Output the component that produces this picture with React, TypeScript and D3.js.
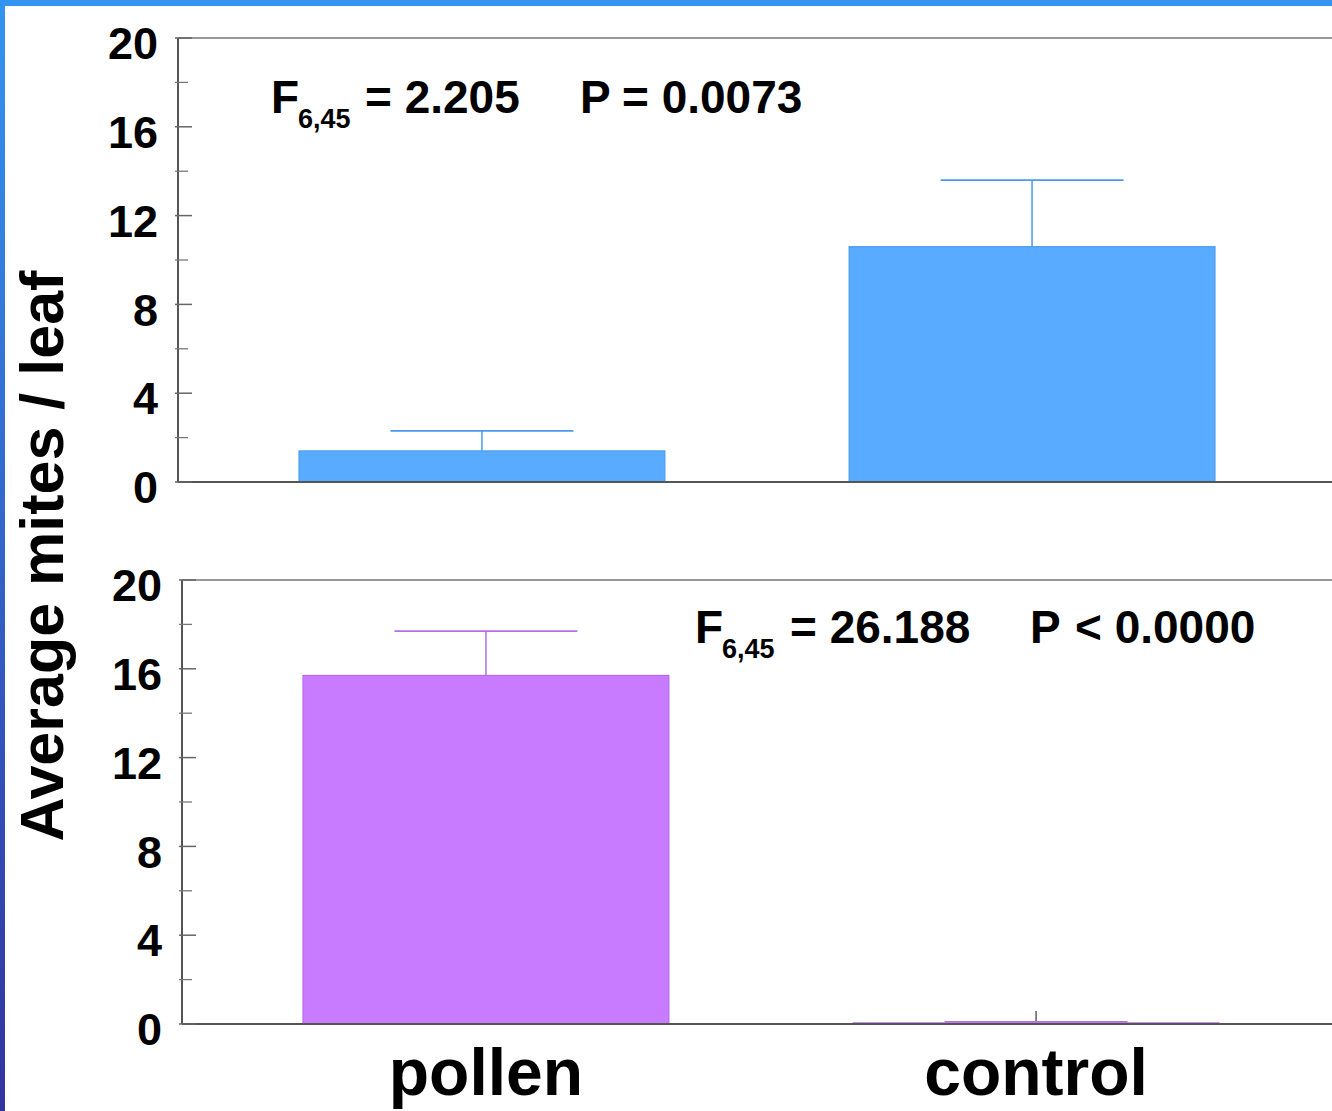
import React from "react";
import * as d3 from "d3";

const categories = ["pollen", "control"];
const topMeans = [1.4, 10.6];
const topErrors = [0.9, 3.0];
const bottomMeans = [15.7, 0.05];
const bottomErrors = [2.0, 0.05];
const majorTicks = [0, 4, 8, 12, 16, 20];
const minorTicks = [2, 6, 10, 14, 18];
const yTitle = "Average mites / leaf";
const topStat = { f: "= 2.205", p: "P", pv: "= 0.0073" };
const bottomStat = { f: "= 26.188", p: "P", pv: "< 0.0000" };

const W = 1332;
const H = 1111;
const FONT = "'Liberation Sans', Arial, sans-serif";

type PanelProps = {
  left: number;
  top: number;
  bottom: number;
  means: number[];
  errors: number[];
  fill: string;
  stroke: string;
  errColor: string;
  stat: { f: string; p: string; pv: string };
  statX: number[];
  statY: number;
};

function Panel(p: PanelProps) {
  const x = d3
    .scaleBand<string>()
    .domain(categories)
    .range([p.left, p.left + 1158])
    .paddingInner(0.335)
    .paddingOuter(0.22);
  const y = d3.scaleLinear().domain([0, 20]).range([p.bottom, p.top]);
  const bw = x.bandwidth();
  return (
    <g>
      {/* top frame line */}
      <line x1={p.left} x2={W} y1={p.top} y2={p.top} stroke="#999" strokeWidth={2} />
      {/* category ticks (inward, beneath bars) */}
      {categories.map((c) => {
        const cx = x(c)! + bw / 2;
        return (
          <line key={"xt" + c} x1={cx} x2={cx} y1={p.bottom} y2={p.bottom - 13} stroke="#444" strokeWidth={1.3} />
        );
      })}
      {/* bars */}
      {categories.map((c, i) => {
        const x0 = x(c)!;
        const yv = y(p.means[i]);
        const ye = y(p.means[i] + p.errors[i]);
        const cx = x0 + bw / 2;
        return (
          <g key={c}>
            <rect
              x={x0}
              y={yv}
              width={bw}
              height={Math.max(1, p.bottom - yv)}
              fill={p.fill}
              stroke={p.stroke}
              strokeWidth={1.2}
            />
            <line x1={cx} x2={cx} y1={yv} y2={ye} stroke={p.errColor} strokeWidth={1.5} />
            <line x1={cx - bw / 4} x2={cx + bw / 4} y1={ye} y2={ye} stroke={p.errColor} strokeWidth={1.8} />
          </g>
        );
      })}
      {/* axes */}
      <line x1={p.left} x2={W} y1={p.bottom} y2={p.bottom} stroke="#555" strokeWidth={1.8} />
      <line x1={p.left} x2={p.left} y1={p.top} y2={p.bottom} stroke="#555" strokeWidth={2} />
      {majorTicks.map((t) => (
        <g key={"M" + t}>
          <line x1={p.left - 3} x2={p.left + 14} y1={y(t)} y2={y(t)} stroke="#666" strokeWidth={1.5} />
          <text
            x={p.left - 20}
            y={y(t) + 5}
            dy="0.36em"
            textAnchor="end"
            fontFamily={FONT}
            fontWeight="bold"
            fontSize={45}
            fill="#000"
          >
            {t}
          </text>
        </g>
      ))}
      {minorTicks.map((t) => (
        <line key={"m" + t} x1={p.left - 3} x2={p.left + 10} y1={y(t)} y2={y(t)} stroke="#777" strokeWidth={1.3} />
      ))}
      {/* stats annotation */}
      <g fontFamily={FONT} fontWeight="bold" fill="#000">
        <text x={p.statX[0]} y={p.statY} fontSize={46}>F</text>
        <text x={p.statX[1]} y={p.statY + 15} fontSize={27}>6,45</text>
        <text x={p.statX[2]} y={p.statY} fontSize={46}>{p.stat.f}</text>
        <text x={p.statX[3]} y={p.statY} fontSize={46}>{p.stat.p}</text>
        <text x={p.statX[4]} y={p.statY} fontSize={46}>{p.stat.pv}</text>
      </g>
    </g>
  );
}

export default function App() {
  const xb = d3
    .scaleBand<string>()
    .domain(categories)
    .range([182, 182 + 1158])
    .paddingInner(0.335)
    .paddingOuter(0.22);
  return (
    <svg
      width={W}
      height={H}
      style={{ position: "absolute", left: 0, top: 0, background: "#fff" }}
    >
      <defs>
        <linearGradient id="leftGrad" x1="0" y1="0" x2="0" y2="1">
          <stop offset="0" stopColor="#3394F2" />
          <stop offset="1" stopColor="#33339E" />
        </linearGradient>
      </defs>
      <rect x={0} y={0} width={W} height={H} fill="#fff" />
      <rect x={0} y={0} width={W} height={6} fill="#3394F2" />
      <rect x={0} y={0} width={5} height={H} fill="url(#leftGrad)" />

      <Panel
        left={178}
        top={38}
        bottom={482}
        means={topMeans}
        errors={topErrors}
        fill="#59ABFF"
        stroke="#4A9CF2"
        errColor="#4A9AF0"
        stat={topStat}
        statX={[271, 298, 365, 580, 622]}
        statY={113}
      />
      <Panel
        left={182}
        top={580}
        bottom={1024}
        means={bottomMeans}
        errors={bottomErrors}
        fill="#C97BFF"
        stroke="#B468F0"
        errColor="#B86EE8"
        stat={bottomStat}
        statX={[695, 722, 790, 1030, 1075]}
        statY={643}
      />

      <text
        transform={`translate(63, 556) rotate(-90)`}
        textAnchor="middle"
        fontFamily={FONT}
        fontWeight="bold"
        fontSize={61}
        fill="#000"
      >
        {yTitle}
      </text>

      {categories.map((c) => (
        <text
          key={c}
          x={xb(c)! + xb.bandwidth() / 2}
          y={1095}
          textAnchor="middle"
          fontFamily={FONT}
          fontWeight="bold"
          fontSize={66}
          fill="#000"
        >
          {c}
        </text>
      ))}
    </svg>
  );
}
